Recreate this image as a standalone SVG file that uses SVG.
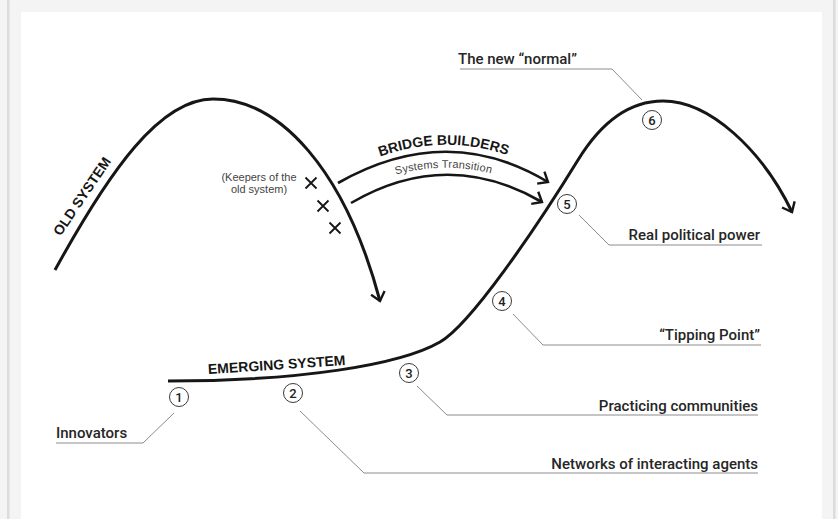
<svg xmlns="http://www.w3.org/2000/svg" width="838" height="519" viewBox="0 0 838 519">
<defs>
<style>
.curve{fill:none;stroke:#161616;stroke-width:3;stroke-linecap:butt}
.bridge{fill:none;stroke:#161616;stroke-width:2.6}
.leader{fill:none;stroke:#8c8c8c;stroke-width:1}
.num{fill:#fff;stroke:#3a3a3a;stroke-width:1}
.numt{font-family:Roboto,"Liberation Sans",Arial,sans-serif;font-weight:500;font-size:13px;fill:#222;text-anchor:middle}
.lbl{font-family:Roboto,"Liberation Sans",Arial,sans-serif;font-weight:500;font-size:15px;fill:#262626}
.big{font-family:"Liberation Sans",Arial,sans-serif;font-weight:bold;font-size:14px;fill:#161616}
.small{font-family:"Liberation Sans",Arial,sans-serif;font-size:11px;fill:#444}
.x{stroke:#161616;stroke-width:1.8;fill:none}
</style>
<marker id="arr" viewBox="0 0 14 16" refX="11" refY="8" markerWidth="14" markerHeight="16" markerUnits="userSpaceOnUse" orient="auto">
<path d="M2.6,1 L11,8 L2.6,15" fill="none" stroke="#161616" stroke-width="2.4"/>
</marker>
<path id="bbPath" d="M338,176 Q447,114 549,175"/>
<path id="stPath" d="M338,199 Q447,137 549,198"/>
</defs>
<rect x="0" y="0" width="838" height="519" fill="#f4f4f4"/>
<rect x="7" y="0" width="2.5" height="519" fill="#dcdcdc"/>
<rect x="833" y="0" width="2.5" height="519" fill="#dcdcdc"/>
<rect x="21" y="12" width="801" height="507" fill="#ffffff"/>

<g id="connectors">
<path id="old-system-curve" class="curve" d="M55,270 C110,170 160,99 213,99 C280,99 345,170 380,301" marker-end="url(#arr)"/>
<path id="emerging-curve" class="curve" d="M168,381 C300,381 400,365 440,342 C470,325 535,230 578,160 C598,127.4 625,101 663,101 C710,101 762,150 792,212" marker-end="url(#arr)"/>
<path id="bridge-upper" class="bridge" d="M338,183 Q447,121 548,182" marker-end="url(#arr)"/>
<path id="bridge-lower" class="bridge" d="M351,203 Q447,147 542,202" marker-end="url(#arr)"/>
<polyline class="leader" points="174,413 143,443 56,443"/>
<polyline class="leader" points="300,411 364,473 758,473"/>
<polyline class="leader" points="417,386 447,415 758,415"/>
<polyline class="leader" points="513,314 543,345 761,345"/>
<polyline class="leader" points="579,215 609,245 762,245"/>
<polyline class="leader" points="642,100 612,69 460,69"/>
</g>

<g id="old-system">
<text class="big" transform="translate(86,199) rotate(-56)" text-anchor="middle">OLD SYSTEM</text>
</g>

<g id="keepers">
<path class="x" d="M305.5,177.5 L316.5,188.5 M316.5,177.5 L305.5,188.5"/>
<path class="x" d="M317.5,200.5 L328.5,211.5 M328.5,200.5 L317.5,211.5"/>
<path class="x" d="M329.5,222.5 L340.5,233.5 M340.5,222.5 L329.5,233.5"/>
<text class="small" text-anchor="middle" x="259" y="181">(Keepers of the</text>
<text class="small" text-anchor="middle" x="259" y="193">old system)</text>
</g>

<g id="bridge-builders">
<text class="big"><textPath href="#bbPath" startOffset="50%" text-anchor="middle">BRIDGE BUILDERS</textPath></text>
<text class="small" style="letter-spacing:0.2px"><textPath href="#stPath" startOffset="50%" text-anchor="middle">Systems Transition</textPath></text>
</g>

<g id="emerging-system">
<text class="big" transform="translate(277,369.5) rotate(-3.8)" text-anchor="middle">EMERGING SYSTEM</text>
</g>

<g id="node-1">
<circle class="num" cx="179" cy="397" r="9.5"/>
<text class="numt" x="179" y="401.5">1</text>
<text class="lbl" x="56" y="438">Innovators</text>
</g>
<g id="node-2">
<circle class="num" cx="293" cy="393" r="9.5"/>
<text class="numt" x="293" y="397.5">2</text>
<text class="lbl" x="758" y="469" text-anchor="end">Networks of interacting agents</text>
</g>
<g id="node-3">
<circle class="num" cx="409" cy="373" r="9.5"/>
<text class="numt" x="409" y="377.5">3</text>
<text class="lbl" x="758" y="411" text-anchor="end">Practicing communities</text>
</g>
<g id="node-4">
<circle class="num" cx="502" cy="301" r="9.5"/>
<text class="numt" x="502" y="305.5">4</text>
<text class="lbl" x="760" y="340" text-anchor="end">“Tipping Point”</text>
</g>
<g id="node-5">
<circle class="num" cx="567" cy="204" r="9.5"/>
<text class="numt" x="567" y="208.5">5</text>
<text class="lbl" x="760" y="240" text-anchor="end">Real political power</text>
</g>
<g id="node-6">
<circle class="num" cx="652" cy="120" r="9.5"/>
<text class="numt" x="652" y="124.5">6</text>
<text class="lbl" x="458" y="64">The new “normal”</text>
</g>
</svg>
